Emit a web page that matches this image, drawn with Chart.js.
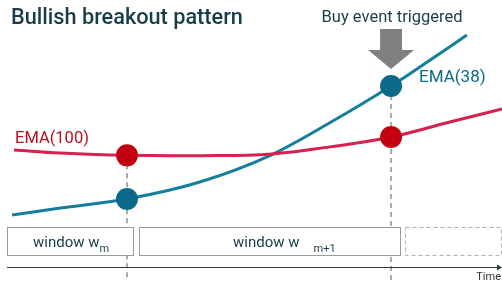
<!DOCTYPE html>
<html>
<head>
<meta charset="utf-8">
<script src="https://cdn.jsdelivr.net/npm/chart.js@4"></script>
<style>
    html, body { margin: 0; padding: 0; background: #fff; }
    canvas { display: block; }
</style>
</head>
<body>
<canvas id="chart" width="502" height="283"></canvas>
<script>
// Curve data (time on x, price level on y)
const ema38Time = [2.4, 12, 25.3, 39.8, 54.2, 65.7, 77.9, 85.7, 93.0];
const ema38Values = [24.0, 26.5, 29.7, 35.7, 45.4, 56.6, 69.6, 78.8, 87.6];
const ema100Time = [2.8, 12, 25.3, 39.8, 54.2, 65.7, 77.9, 89.6, 100];
const ema100Values = [47.0, 45.9, 45.1, 45.0, 45.6, 48.1, 51.6, 56.9, 61.5];

// Window boundaries (where each window check happens)
const eventTimes = [25.3, 77.9];
const eventEma38 = [29.7, 69.6];
const eventEma100 = [45.1, 51.6];
const windowStarts = [1.4, 27.7, 80.7];
const windowEnds = [26.5, 79.7, 99.8];
const windowLabels = ['window w', 'window w', ''];
const windowSubs = ['m', 'm+1', ''];
const windowBottom = 9.9, windowTop = 19.8;
const timeAxisLevel = 5.65;
const dashBottom = 1.06;

const tealLine = '#157f9b';
const tealDot = '#0b6a88';
const redLine = '#d6214f';
const redDot = '#c20012';
const textDark = '#173d4a';

function toPoints(xs, ys) {
    return xs.map((x, i) => ({ x: x, y: ys[i] }));
}

const overlay = {
    id: 'overlay',
    afterDatasetsDraw(chart) {
        const ctx = chart.ctx;
        const xs = chart.scales.x, ys = chart.scales.y;
        ctx.save();

        // window boxes
        const top = ys.getPixelForValue(windowTop), bottom = ys.getPixelForValue(windowBottom);
        const textInset = [26, 94];
        const subGap = [0, 14];
        windowStarts.forEach((s, i) => {
            const x0 = xs.getPixelForValue(s), x1 = xs.getPixelForValue(windowEnds[i]);
            ctx.fillStyle = '#fff';
            ctx.fillRect(x0, top, x1 - x0, bottom - top);
            ctx.strokeStyle = i === 2 ? '#b0b0b0' : '#9a9a9a';
            ctx.lineWidth = 1;
            ctx.setLineDash(i === 2 ? [4, 3] : []);
            ctx.strokeRect(Math.round(x0) + 0.5, Math.round(top) + 0.5, Math.round(x1 - x0), Math.round(bottom - top));
            ctx.setLineDash([]);

            if (windowLabels[i]) {
                const start = x0 + textInset[i];
                const base = (top + bottom) / 2 + 6;
                ctx.fillStyle = textDark;
                ctx.textAlign = 'left';
                ctx.textBaseline = 'alphabetic';
                ctx.font = '15px Roboto';
                const mainW = ctx.measureText(windowLabels[i]).width;
                ctx.fillText(windowLabels[i], start, base);
                ctx.font = '11px Roboto';
                ctx.fillText(windowSubs[i], start + mainW + subGap[i], base + 5);
            }
        });

        // time axis with arrow
        const ay = Math.round(ys.getPixelForValue(timeAxisLevel)) + 0.5;
        const ax0 = xs.getPixelForValue(windowStarts[0]), ax1 = xs.getPixelForValue(100);
        ctx.strokeStyle = '#2b3a40';
        ctx.lineWidth = 1;
        ctx.beginPath();
        ctx.moveTo(ax0, ay);
        ctx.lineTo(ax1 - 2, ay);
        ctx.stroke();
        ctx.fillStyle = '#2b3a40';
        ctx.beginPath();
        ctx.moveTo(ax1, ay);
        ctx.lineTo(ax1 - 5, ay - 3);
        ctx.lineTo(ax1 - 5, ay + 3);
        ctx.closePath();
        ctx.fill();
        ctx.font = '11px Roboto';
        ctx.textAlign = 'right';
        ctx.fillStyle = '#333';
        ctx.fillText('Time', ax1 - 1, ay + 12);

        // buy arrow above the breakout point
        const bx = xs.getPixelForValue(eventTimes[1]);
        ctx.fillStyle = '#808080';
        ctx.fillRect(bx - 11, 29, 22, 22);
        ctx.beginPath();
        ctx.moveTo(bx - 23, 50);
        ctx.lineTo(bx + 23, 50);
        ctx.lineTo(bx, 69);
        ctx.closePath();
        ctx.fill();

        // text
        ctx.textAlign = 'left';
        ctx.fillStyle = textDark;
        ctx.font = '500 21.7px Roboto';
        ctx.fillText('Bullish breakout pattern', 11, 24);
        ctx.textAlign = 'center';
        ctx.font = '16.5px Roboto';
        ctx.fillText('Buy event triggered', bx + 1, 22);
        ctx.textAlign = 'left';
        ctx.font = '17px Roboto';
        ctx.fillStyle = tealDot;
        ctx.fillText('EMA(38)', bx + 28, 82);
        ctx.font = '16.5px Roboto';
        ctx.fillStyle = '#b5121b';
        ctx.fillText('EMA(100)', 15, 143);

        ctx.restore();
    }
};

new Chart(document.getElementById('chart'), {
    type: 'line',
    data: {
        datasets: [
            {
                data: [{ x: eventTimes[0], y: eventEma100[0] }, { x: eventTimes[0], y: dashBottom }],
                borderColor: '#a8a8a8', borderWidth: 2, borderDash: [5, 4], pointRadius: 0, order: 3
            },
            {
                data: [{ x: eventTimes[1], y: eventEma38[1] }, { x: eventTimes[1], y: dashBottom }],
                borderColor: '#a8a8a8', borderWidth: 2, borderDash: [5, 4], pointRadius: 0, order: 3
            },
            {
                label: 'EMA(100)',
                data: toPoints(ema100Time, ema100Values),
                borderColor: redLine, borderWidth: 3, pointRadius: 0,
                tension: 0.4, order: 2
            },
            {
                label: 'EMA(38)',
                data: toPoints(ema38Time, ema38Values),
                borderColor: tealLine, borderWidth: 3, pointRadius: 0,
                cubicInterpolationMode: 'monotone', order: 2
            },
            {
                data: toPoints(eventTimes, eventEma100),
                showLine: false, pointRadius: 11, pointBackgroundColor: redDot,
                pointBorderWidth: 0, borderColor: redDot, order: 1
            },
            {
                data: toPoints(eventTimes, eventEma38),
                showLine: false, pointRadius: 11, pointBackgroundColor: tealDot,
                pointBorderWidth: 0, borderColor: tealDot, order: 1
            }
        ]
    },
    options: {
        responsive: false,
        animation: false,
        layout: { padding: 0, autoPadding: false },
        plugins: {
            legend: { display: false },
            tooltip: { enabled: false },
            title: { display: false }
        },
        scales: {
            x: { type: 'linear', min: 0, max: 100, display: false },
            y: { type: 'linear', min: 0, max: 100, display: false }
        }
    },
    plugins: [overlay]
});
</script>
</body>
</html>
